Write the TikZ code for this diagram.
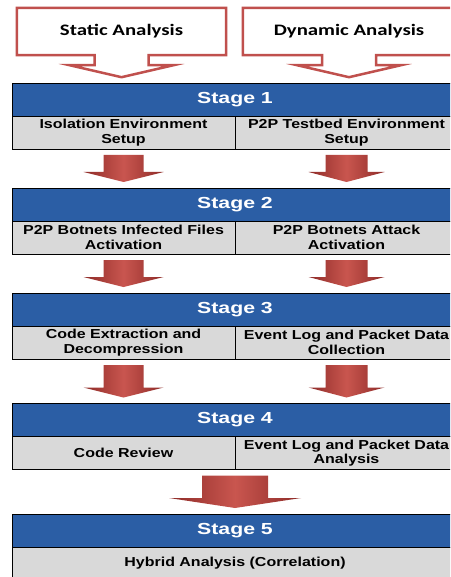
\documentclass[tikz,border=0pt]{standalone}
\usepackage{fontspec}
\usepackage{tikz}
\usetikzlibrary{calc}

\newfontfamily\stagefont[FakeStretch=1.33]{Liberation Sans}
\newfontfamily\cellfont[FakeStretch=1.23]{Liberation Sans}
\newfontfamily\callfont[FakeStretch=1.3]{Carlito}

\definecolor{stageblue}{HTML}{2B5EA5}
\definecolor{cellgray}{HTML}{D9D9D9}
\definecolor{calloutred}{HTML}{C0504D}
\definecolor{arrowred}{HTML}{C9564F}
\definecolor{arrowdark}{HTML}{8E2B28}

\newcommand{\redarrow}[4]{%
    \path (#1) ++(0,6) coordinate (atop) (#1 |- #2) ++(0,-6) coordinate (atip);
    \shade[left color=arrowdark, right color=arrowdark, middle color=arrowred]
        ($(atop)+(-#3,0)$) -- ($(atop)+(#3,0)$) -- ($(atip)+(#3,-10)$) -- ($(atip)+(#4,-10)$)
        -- (atip) -- ($(atip)+(-#4,-10)$) -- ($(atip)+(-#3,-10)$) -- cycle;
}
\newcommand{\calloutpath}[1]{%
    \draw[calloutred, line width=2.5pt, miter limit=10] (#1.north west) -- (#1.north east) -- (#1.south east)
        -- ($(#1.south)+(27,0)$) -- ++(0,10) -- ++(25,0) -- ($(#1.south)+(0,22)$)
        -- ($(#1.south)+(-52,10)$) -- ++(25,0) -- ($(#1.south)+(-27,0)$) -- (#1.south west) -- cycle;
}

\begin{document}
\begin{tikzpicture}[x=1pt, y=-1pt,
    stage/.style={draw=black, line width=0.8pt, fill=stageblue, text=white, minimum width=446pt,
        minimum height=33pt, inner sep=0pt, outer sep=0pt, font=\stagefont\bfseries\fontsize{16}{19}\selectfont},
    cell/.style={draw=black, line width=0.8pt, fill=cellgray, minimum width=223pt, minimum height=33pt,
        inner sep=0pt, outer sep=0pt, align=center, font=\cellfont\bfseries\fontsize{13}{14.5}\selectfont},
    callout/.style={minimum width=209pt, minimum height=47pt, inner sep=0pt,
        font=\callfont\bfseries\fontsize{16}{19}\selectfont}]
    \useasboundingbox (0,0) rectangle (450,577);
    \clip (0,0) rectangle (450,577);
    \fill[white] (0,0) rectangle (450,577);

    \node[callout] (sa) at (121.5,31.5) {Static Analysis};
    \node[callout, minimum width=212pt] (da) at (349,31.5) {Dynamic Analysis};
    \calloutpath{sa}
    \calloutpath{da}

    \node[stage] (st1) at (235,99.5) {Stage 1};
    \node[cell, anchor=north east] (a1) at (st1.south) {Isolation Environment\\Setup};
    \node[cell, anchor=north west] (b1) at (st1.south) {P2P Testbed Environment\\Setup};

    \node[stage] (st2) at (235,204.5) {Stage 2};
    \node[cell, anchor=north east] (a2) at (st2.south) {P2P Botnets Infected Files\\Activation};
    \node[cell, anchor=north west] (b2) at (st2.south) {P2P Botnets Attack\\Activation};

    \node[stage] (st3) at (235,309.5) {Stage 3};
    \node[cell, anchor=north east] (a3) at (st3.south) {Code Extraction and\\Decompression};
    \node[cell, anchor=north west] (b3) at (st3.south) {Event Log and Packet Data\\Collection};

    \node[stage] (st4) at (235,420) {Stage 4};
    \node[cell, anchor=north east] (a4) at (st4.south) {Code Review};
    \node[cell, anchor=north west] (b4) at (st4.south) {Event Log and Packet Data\\Analysis};

    \node[stage] (st5) at (235,530.5) {Stage 5};
    \node[cell, anchor=north, minimum width=446pt] (c5) at (st5.south) {Hybrid Analysis (Correlation)};

    \redarrow{a1.south}{st2.north}{20}{40}
    \redarrow{b1.south}{st2.north}{21}{38}
    \redarrow{a2.south}{st3.north}{20}{40}
    \redarrow{b2.south}{st3.north}{21}{38}
    \redarrow{a3.south}{st4.north}{20}{40}
    \redarrow{b3.south}{st4.north}{21}{38}
    \redarrow{b4.south west}{st5.north}{33}{66}
\end{tikzpicture}
\end{document}
